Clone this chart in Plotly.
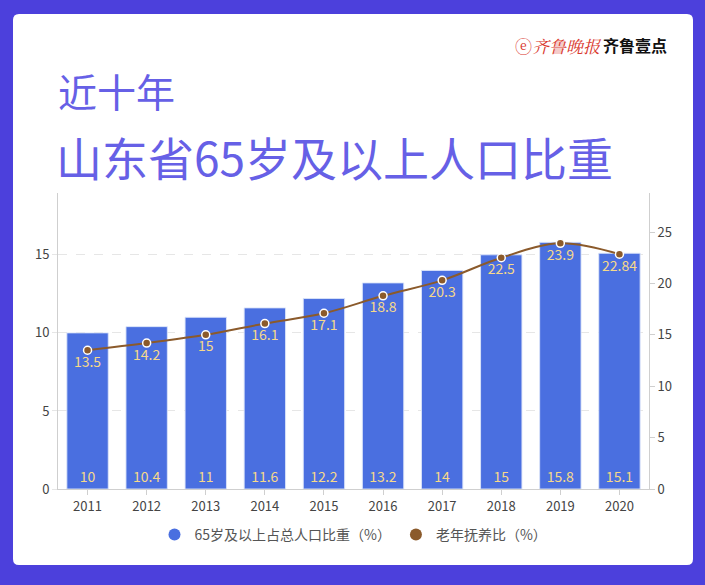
import plotly.graph_objects as go

years = ["2011", "2012", "2013", "2014", "2015", "2016", "2017", "2018", "2019", "2020"]
share65 = [10, 10.4, 11, 11.6, 12.2, 13.2, 14, 15, 15.8, 15.1]
dependency = [13.5, 14.2, 15, 16.1, 17.1, 18.8, 20.3, 22.5, 23.9, 22.84]
share_labels = ["10", "10.4", "11", "11.6", "12.2", "13.2", "14", "15", "15.8", "15.1"]
dep_labels = ["13.5", "14.2", "15", "16.1", "17.1", "18.8", "20.3", "22.5", "23.9", "22.84"]

W, H = 705, 585
L, R, T, B = 58, 56, 193, 96
pw, ph = W - L - R, H - T - B

def fx(px):
    return (px - L) / pw

def fy(py):
    return (H - B - py) / ph

FONT = "Noto Sans CJK SC, Microsoft YaHei, sans-serif"
BAR = "#4a6fe0"
LINE = "#8b5a2b"
LABEL = "#f6d98a"

fig = go.Figure()
fig.add_trace(go.Bar(
    x=years, y=share65, name="65岁及以上占总人口比重（%）", showlegend=False,
    marker=dict(color=BAR, line=dict(color="rgba(220,228,250,0.9)", width=1)),
    text=share_labels, textposition="inside", insidetextanchor="start",
    textfont=dict(color=LABEL, size=14, family=FONT), textangle=0,
    cliponaxis=False, yaxis="y",
))
fig.add_trace(go.Scatter(
    x=years, y=dependency, name="老年抚养比（%）", yaxis="y2", showlegend=False,
    mode="lines+markers+text", line=dict(color=LINE, width=2, shape="spline"),
    marker=dict(size=8, color=LINE, line=dict(color="white", width=1.5)),
    text=dep_labels, textposition="bottom center",
    textfont=dict(color=LABEL, size=14, family=FONT), cliponaxis=False,
))
# legend entries with circular symbols
fig.add_trace(go.Scatter(x=[None], y=[None], mode="markers", name="65岁及以上占总人口比重（%）",
                         marker=dict(symbol="circle", size=12, color=BAR)))
fig.add_trace(go.Scatter(x=[None], y=[None], mode="markers", name="老年抚养比（%）",
                         marker=dict(symbol="circle", size=12, color=LINE)))

# rounded white card
x0, x1 = fx(13), fx(693)
y0, y1 = fy(565), fy(14)
rx, ry = 6 / pw, 6 / ph
path = (f"M {x0+rx},{y1} L {x1-rx},{y1} Q {x1},{y1} {x1},{y1-ry} "
        f"L {x1},{y0+ry} Q {x1},{y0} {x1-rx},{y0} L {x0+rx},{y0} "
        f"Q {x0},{y0} {x0},{y0+ry} L {x0},{y1-ry} Q {x0},{y1} {x0+rx},{y1} Z")

fig.update_layout(
    width=W, height=H,
    margin=dict(l=L, r=R, t=T, b=B),
    paper_bgcolor="#4c40dc", plot_bgcolor="white",
    font=dict(family=FONT, color="#555", size=13),
    bargap=0.3,
    shapes=[dict(type="path", xref="paper", yref="paper", path=path,
                 fillcolor="white", line=dict(width=0), layer="below")],
    xaxis=dict(range=[-0.5, 9.5], showline=True, linecolor="#cfcfcf", linewidth=1,
               ticks="outside", tickcolor="#cfcfcf", ticklen=5,
               tickfont=dict(size=13, color="#444"), showgrid=False),
    yaxis=dict(range=[0, 18.96], tickvals=[0, 5, 10, 15], showline=True,
               linecolor="#cfcfcf", linewidth=1, ticks="outside", tickcolor="#e6e6e6",
               ticklen=5, showgrid=True, gridcolor="#e6e6e6", griddash="dash",
               zeroline=False, tickfont=dict(size=13, color="#444")),
    yaxis2=dict(range=[0, 28.8], tickvals=[0, 5, 10, 15, 20, 25], overlaying="y",
                side="right", showline=True, linecolor="#cfcfcf", linewidth=1,
                ticks="outside", tickcolor="#cfcfcf", ticklen=5, showgrid=False,
                zeroline=False, tickfont=dict(size=13, color="#444")),
    legend=dict(orientation="h", x=0.5, xanchor="center", y=fy(535), yanchor="middle",
                font=dict(size=14, color="#555"), itemsizing="constant",
                itemwidth=30, bgcolor="rgba(0,0,0,0)"),
    annotations=[
        dict(text="近十年", xref="paper", yref="paper", x=fx(56), y=fy(90),
             xanchor="left", yanchor="middle", showarrow=False,
             font=dict(size=39, color="#6660e6", family=FONT)),
        dict(text="山东省65岁及以上人口比重", xref="paper", yref="paper", x=fx(54), y=fy(156),
             xanchor="left", yanchor="middle", showarrow=False,
             font=dict(size=46, color="#6660e6", family=FONT)),
        dict(text="ⓔ<i>齐鲁晚报</i>", xref="paper", yref="paper", x=fx(513), y=fy(45),
             xanchor="left", yanchor="middle", showarrow=False,
             font=dict(size=17, color="#d9362c", family="Noto Serif CJK SC, serif")),
        dict(text="<b>齐鲁壹点</b>", xref="paper", yref="paper", x=fx(601), y=fy(45),
             xanchor="left", yanchor="middle", showarrow=False,
             font=dict(size=16, color="#111", family=FONT)),
    ],
)

fig.write_html("out.html")
